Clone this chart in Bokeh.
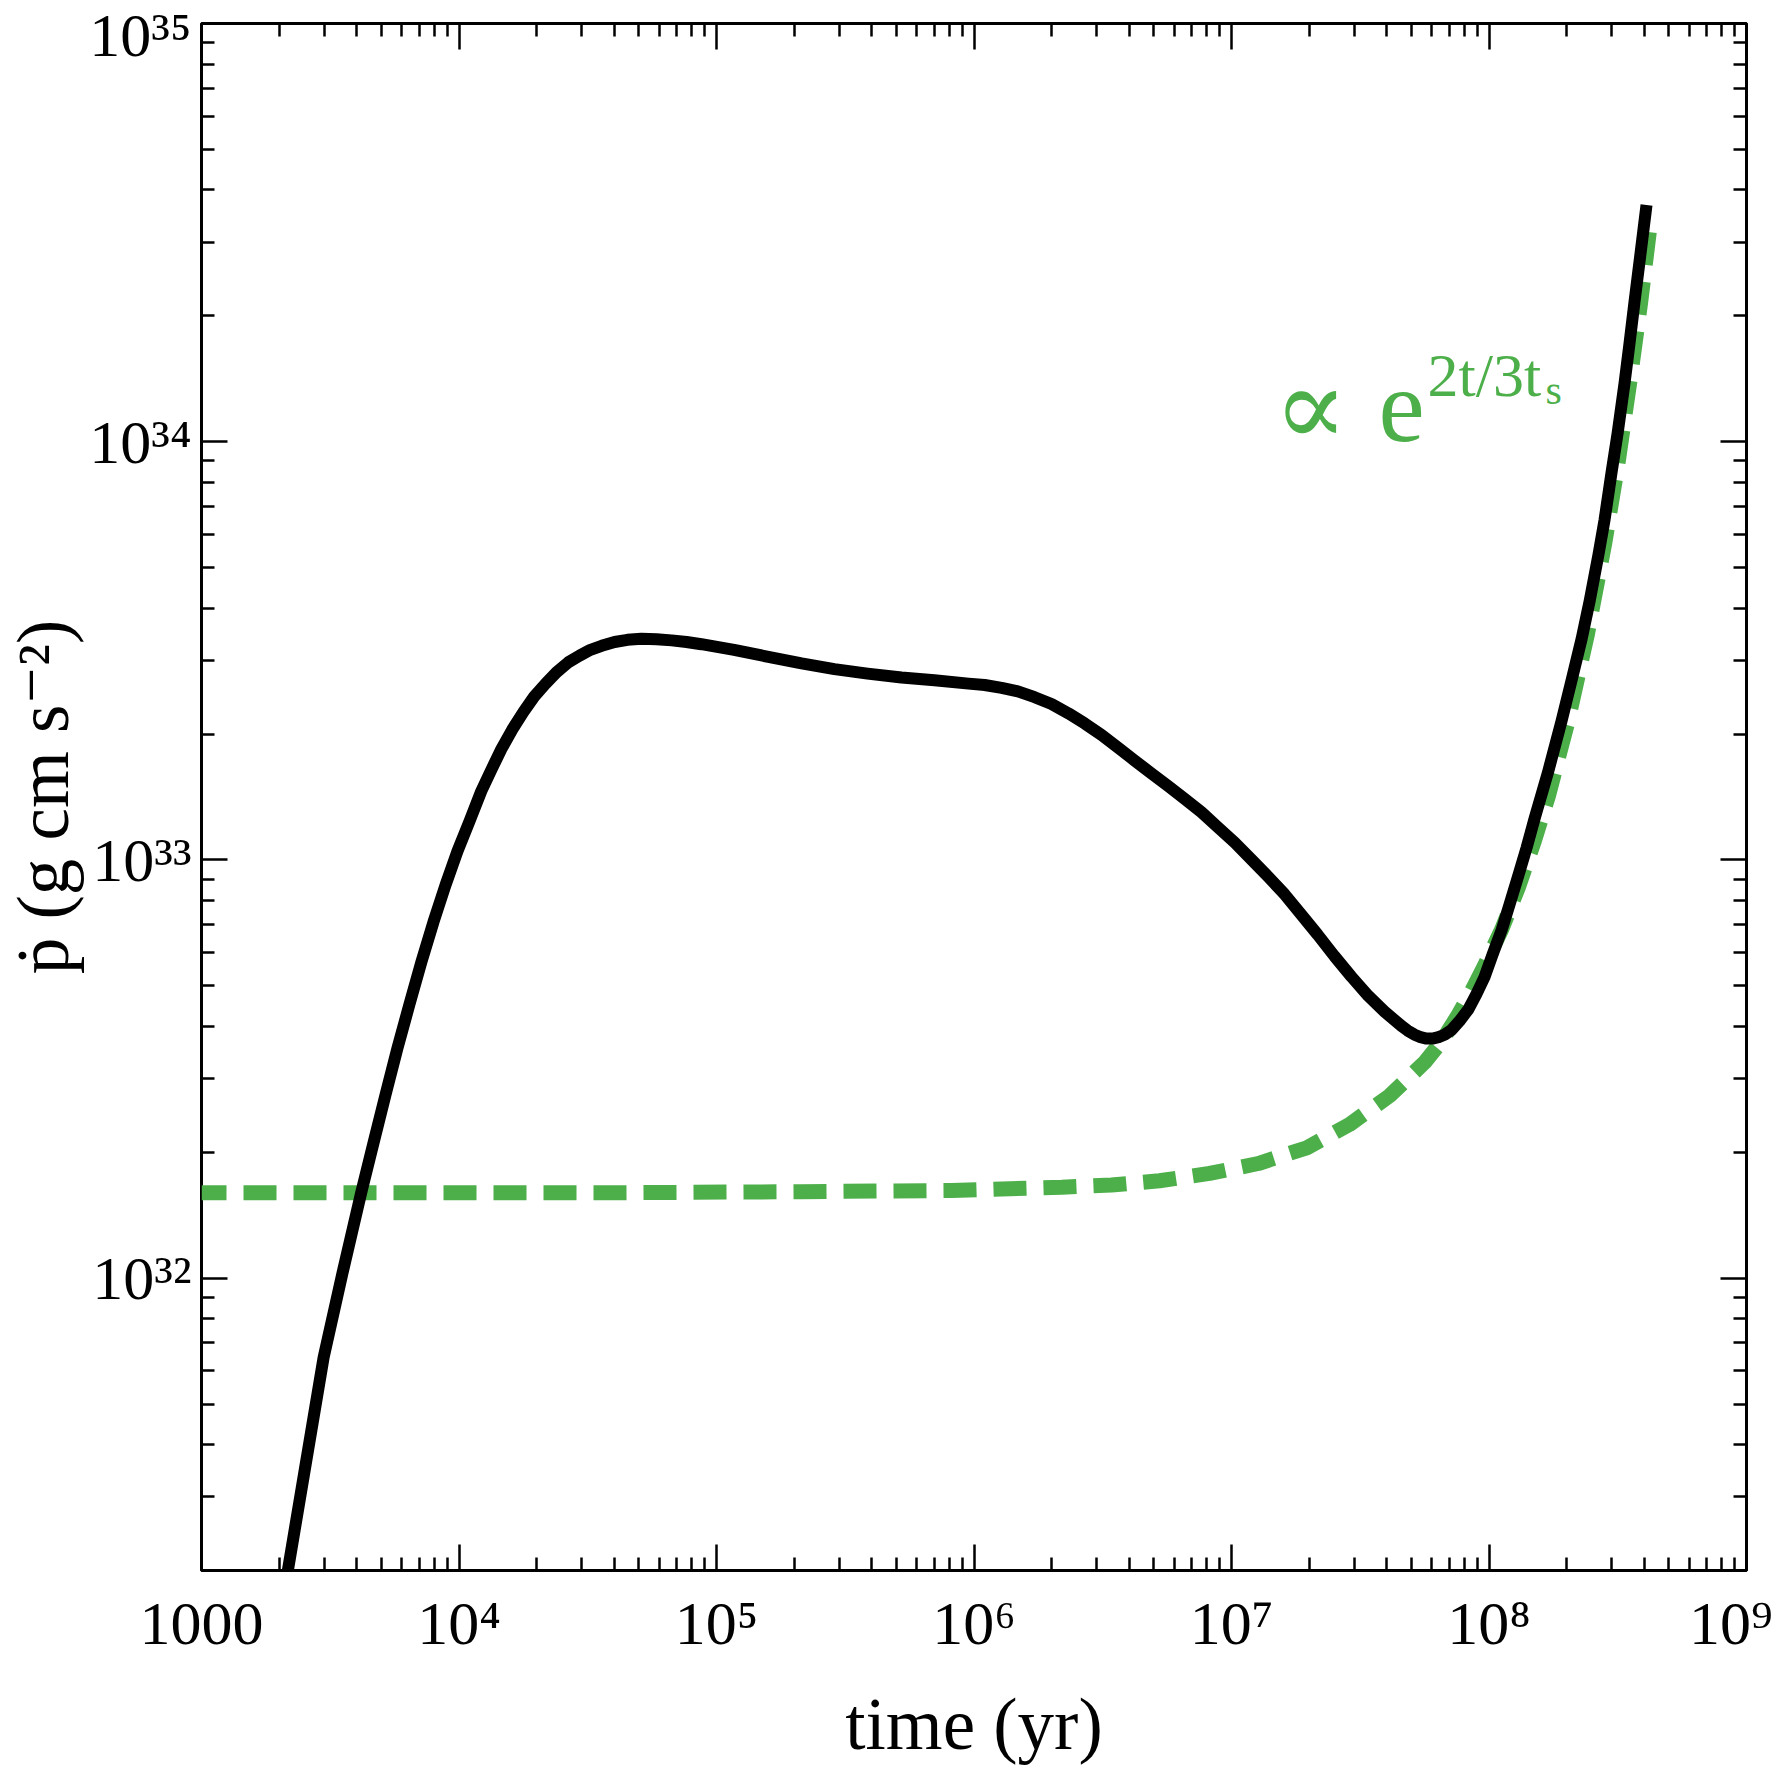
import math
from bokeh.plotting import figure
from bokeh.models import FixedTicker, LogAxis, Label
from bokeh.embed import file_html
from bokeh.resources import INLINE

# ---------------- data ----------------
# total momentum injection rate (black solid curve): time in yr, pdot in g cm s^-2
t_total = [2.10e3, 2.98e3, 3.53e3, 4.18e3, 4.66e3, 5.18e3, 5.77e3, 6.43e3, 7.15e3, 7.96e3,
           8.86e3, 9.87e3, 1.10e4, 1.22e4, 1.34e4, 1.46e4, 1.61e4, 1.78e4, 1.96e4, 2.17e4,
           2.39e4, 2.66e4, 2.94e4, 3.24e4, 3.58e4, 4.02e4, 4.51e4, 5.11e4, 5.85e4, 6.69e4,
           7.65e4, 8.74e4, 1.17e5, 1.59e5, 2.14e5, 2.87e5, 3.86e5, 5.23e5, 7.02e5, 9.52e5,
           1.10e6, 1.28e6, 1.48e6, 1.72e6, 2.00e6, 2.33e6, 2.69e6, 3.13e6, 3.61e6, 4.20e6,
           4.89e6, 5.69e6, 6.57e6, 7.65e6, 8.82e6, 1.03e7, 1.20e7, 1.39e7, 1.61e7, 1.87e7,
           2.16e7, 2.51e7, 2.92e7, 3.40e7, 3.93e7, 4.57e7, 4.83e7, 5.14e7, 5.42e7, 5.72e7,
           6.03e7, 6.37e7, 6.72e7, 7.15e7, 7.68e7, 8.33e7, 8.94e7, 9.61e7, 1.03e8, 1.12e8,
           1.20e8, 1.30e8, 1.40e8, 1.50e8, 1.69e8, 1.91e8, 2.09e8, 2.29e8, 2.46e8, 2.66e8,
           2.81e8, 2.99e8, 3.16e8, 3.36e8, 3.51e8, 3.67e8, 3.88e8, 4.09e8]
pdot_total = [1.79e31, 6.46e31, 1.03e32, 1.61e32, 2.11e32, 2.74e32, 3.55e32, 4.53e32, 5.71e32, 7.11e32,
              8.70e32, 1.05e33, 1.24e33, 1.46e33, 1.65e33, 1.84e33, 2.05e33, 2.26e33, 2.46e33, 2.64e33,
              2.81e33, 2.97e33, 3.08e33, 3.18e33, 3.25e33, 3.32e33, 3.36e33, 3.38e33, 3.37e33, 3.35e33,
              3.32e33, 3.28e33, 3.18e33, 3.06e33, 2.95e33, 2.86e33, 2.79e33, 2.73e33, 2.69e33, 2.64e33,
              2.62e33, 2.58e33, 2.53e33, 2.45e33, 2.36e33, 2.24e33, 2.12e33, 1.99e33, 1.86e33, 1.73e33,
              1.61e33, 1.50e33, 1.40e33, 1.30e33, 1.20e33, 1.10e33, 1.00e33, 9.11e32, 8.27e32, 7.39e32,
              6.63e32, 5.89e32, 5.26e32, 4.73e32, 4.34e32, 4.01e32, 3.91e32, 3.82e32, 3.77e32, 3.74e32,
              3.74e32, 3.77e32, 3.82e32, 3.92e32, 4.12e32, 4.40e32, 4.78e32, 5.25e32, 5.92e32, 6.80e32,
              7.80e32, 9.18e32, 1.07e33, 1.25e33, 1.61e33, 2.14e33, 2.68e33, 3.38e33, 4.16e33, 5.36e33,
              6.50e33, 8.42e33, 1.05e34, 1.38e34, 1.71e34, 2.15e34, 2.83e34, 3.68e34]

# exponential growth approximation (green dashed curve)
t_exp = [1.00e3, 3.58e4, 2.14e5, 8.18e5, 2.19e6, 3.42e6, 5.25e6, 8.22e6, 1.27e7, 1.96e7,
         2.87e7, 4.11e7, 5.62e7, 6.54e7, 7.61e7, 8.55e7, 9.61e7, 1.12e8, 1.30e8, 1.50e8,
         1.70e8, 2.02e8, 2.41e8, 2.81e8, 3.16e8, 3.54e8, 3.88e8, 4.20e8]
pdot_exp = [1.60e32, 1.60e32, 1.61e32, 1.62e32, 1.65e32, 1.67e32, 1.71e32, 1.78e32, 1.88e32, 2.05e32,
            2.33e32, 2.73e32, 3.28e32, 3.68e32, 4.27e32, 4.85e32, 5.59e32, 6.82e32, 8.59e32, 1.11e33,
            1.42e33, 2.13e33, 3.46e33, 5.68e33, 8.77e33, 1.42e34, 2.15e34, 3.20e34]

# ticks and tick labels
x_major = [1e3, 1e4, 1e5, 1e6, 1e7, 1e8, 1e9]
x_tick_labels = ["1000", "10\u2074", "10\u2075", "10\u2076", "10\u2077", "10\u2078", "10\u2079"]
y_major = [1e32, 1e33, 1e34, 1e35]
y_tick_labels = ["10\u00b3\u00b2", "10\u00b3\u00b3", "10\u00b3\u2074", "10\u00b3\u2075"]
x_minor = [m * 10.0 ** k for k in range(3, 9) for m in range(2, 10)]
y_minor = [m * 10.0 ** k for k in range(31, 35) for m in range(2, 10)]

x_title = "time (yr)"
y_title = "\u1e57 (g cm s\u207b\u00b2)"

x_range = (1e3, 1e9)
y_range = (2e31, 1e35)

GREEN = "#4daf4a"
SERIF = "Liberation Serif, DejaVu Serif, serif"

# ---------------- layout ----------------
FL, FT, FW, FH = 200, 23, 1545, 1547
LX0, LX1 = math.log10(x_range[0]), math.log10(x_range[1])
LY0, LY1 = math.log10(y_range[0]), math.log10(y_range[1])


def xd(px):
    return 10 ** (LX0 + (px - FL) / FW * (LX1 - LX0))


def yd(py):
    return 10 ** (LY1 - (py - FT) / FH * (LY1 - LY0))


p = figure(x_axis_type="log", y_axis_type="log", x_range=x_range, y_range=y_range,
           frame_width=FW, frame_height=FH, output_backend="svg", toolbar_location=None,
           min_border_left=FL, min_border_top=FT, min_border_right=26, min_border_bottom=201)
p.background_fill_color = "white"
p.border_fill_color = "white"
p.outline_line_color = "black"
p.outline_line_width = 3
p.xgrid.visible = False
p.ygrid.visible = False

xt = FixedTicker(ticks=x_major, minor_ticks=x_minor)
yt = FixedTicker(ticks=y_major, minor_ticks=y_minor)


def style_axis(ax, ticker, show):
    ax.ticker = ticker
    ax.axis_line_color = None
    ax.major_tick_in = 26
    ax.major_tick_out = 0
    ax.minor_tick_in = 13
    ax.minor_tick_out = 0
    ax.major_tick_line_width = 2.5
    ax.minor_tick_line_width = 2.5
    ax.major_tick_line_color = "black"
    ax.minor_tick_line_color = "black"
    if not show:
        ax.major_label_text_font_size = "1px"
        ax.major_label_text_color = None
        ax.major_label_standoff = 0
    else:
        ax.major_label_text_font = SERIF
        ax.major_label_text_font_size = "62px"
        ax.major_label_text_font_style = "normal"
        ax.major_label_text_color = "black"
        ax.axis_label_text_font = SERIF
        ax.axis_label_text_font_size = "73px"
        ax.axis_label_text_font_style = "normal"
        ax.axis_label_text_color = "black"


xa = p.xaxis[0]
style_axis(xa, xt, True)
xa.major_label_overrides = dict(zip(x_major, x_tick_labels))
xa.major_label_standoff = 18
xa.axis_label = x_title
xa.axis_label_standoff = 24

ya = p.yaxis[0]
style_axis(ya, yt, True)
ya.major_label_overrides = dict(zip(y_major, y_tick_labels))
ya.major_label_standoff = 10
ya.axis_label = y_title
ya.axis_label_standoff = 2

top_ax = LogAxis()
style_axis(top_ax, xt, False)
p.add_layout(top_ax, "above")
right_ax = LogAxis()
style_axis(right_ax, yt, False)
p.add_layout(right_ax, "right")

# ---------------- curves ----------------
p.line(t_exp, pdot_exp, line_color=GREEN, line_width=15, line_dash="33 17", line_dash_offset=8)
p.line(t_total, pdot_total, line_color="black", line_width=12, line_join="round")

# ---------------- annotation (inside the frame) ----------------
BL = 0.36  # Label anchor sits this many em above the glyph baseline


def lab(x_px, base_px, text, size, font=SERIF):
    p.add_layout(Label(x=xd(x_px), y=yd(base_px - BL * size), text=text, text_font=font,
                       text_font_size=f"{size}px", text_color=GREEN, text_align="left",
                       text_baseline="alphabetic"))


lab(1272, 406.5 + BL * 110, "\u221d", 110, font="DejaVu Serif")
lab(1377, 444, "e", 104)
lab(1426, 397, "2t/3t", 62)
lab(1544, 405, "s", 42)

open("out.html", "w").write(file_html(p, INLINE))
